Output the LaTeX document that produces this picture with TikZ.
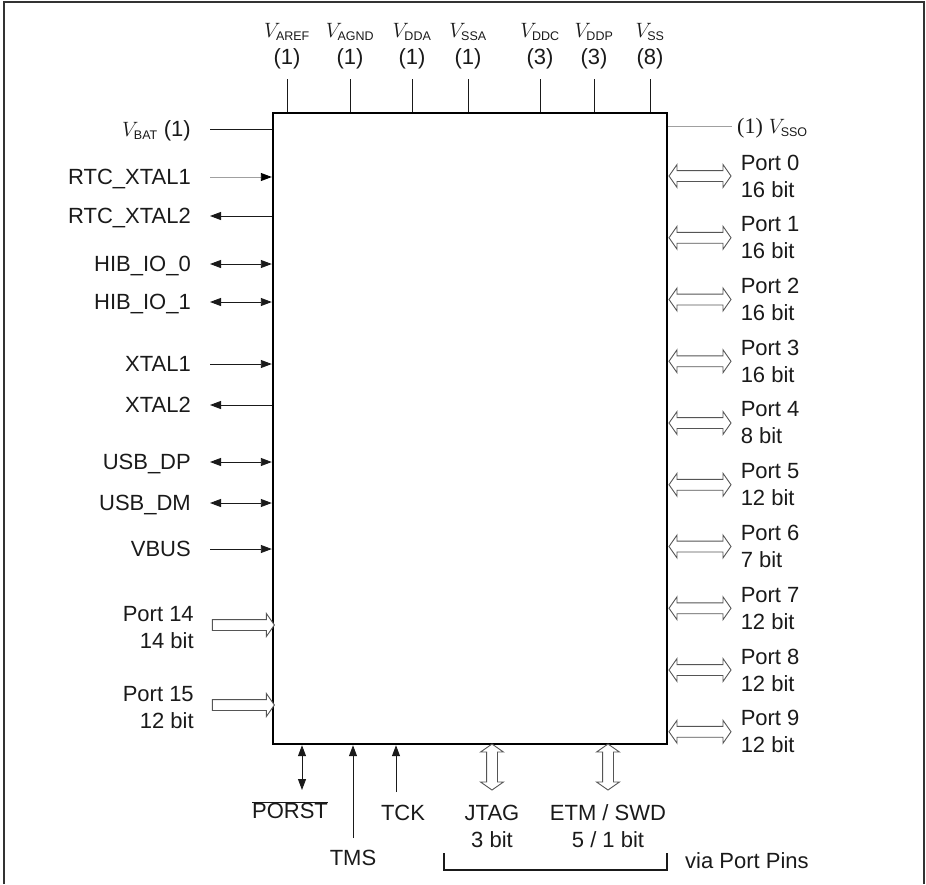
\documentclass[tikz,border=0pt]{standalone}
\usepackage{fontspec}
\setmainfont{Liberation Sans}
\newfontfamily\pinserif{Liberation Serif}
\usepackage{xcolor}
\definecolor{pinDark}{HTML}{1A1A1A}
\definecolor{pinGray}{HTML}{A0A0A0}
\definecolor{busGray}{HTML}{555555}
\definecolor{frameGray}{HTML}{333333}
\usetikzlibrary{arrows.meta,positioning,shapes.arrows,calc}
\newcommand{\vpin}[1]{$V_{\mbox{\fontsize{12.5}{12.5}\selectfont #1}}$}
\tikzset{
    chip/.style={
        draw=black,
        rectangle,
        line width=2.4pt,
        minimum width=394pt,
        minimum height=631pt,
        inner sep=0pt
    },
    frame/.style={
        draw=frameGray,
        line width=1.2pt
    },
    lbl/.style={
        font=\fontsize{22}{27}\selectfont,
        text=pinDark,
        inner sep=2pt,
        align=center
    },
    onel/.style={
        lbl,
        text height=15.7pt,
        text depth=0pt
    },
    pinwire/.style={
        line width=0.9pt,
        draw=pinDark
    },
    pinpwr/.style={pinwire},
    pinin/.style={pinwire, -{Triangle[length=11pt,width=8pt]}},
    pinout/.style={pinwire, {Triangle[length=11pt,width=8pt]}-},
    pinio/.style={pinwire, {Triangle[length=11pt,width=8pt]}-{Triangle[length=11pt,width=8pt]}},
    pinfaint/.style={pinwire, draw=pinGray, -{Triangle[length=11pt,width=8pt,color=black]}},
    busin/.style={
        single arrow,
        draw=busGray,
        fill=white,
        line width=0.9pt,
        minimum height=62pt,
        single arrow head extend=6pt,
        single arrow tip angle=110,
        inner xsep=0pt,
        inner ysep=5pt
    },
    busio/.style={
        double arrow,
        draw=busGray,
        fill=white,
        line width=0.9pt,
        minimum height=62pt,
        double arrow head extend=6pt,
        double arrow tip angle=110,
        inner xsep=0pt,
        inner ysep=5pt
    }
}

\begin{document}
\begin{tikzpicture}[x=1pt, y=-1pt]
    \useasboundingbox (0,0) rectangle (926,884);

    % Outer frame, open at the bottom
    \draw[frame] (4,884) -- (4,2) -- (924,2) -- (924,884);

    % The device
    \node[chip] (chip) at (470,428.5) {};

    % Supply pins on top
    \foreach \x/\v/\c in {287/AREF/1, 350/AGND/1, 412/DDA/1, 468/SSA/1, 540/DDC/3, 594/DDP/3, 650/SS/8} {
        \coordinate (top\v) at (\x,79);
        \draw[pinwire] (top\v) -- (top\v |- chip.north);
        \node[lbl, above=8pt of top\v] {\vpin{\v}\\(\c)};
    }

    % Single pins on the left
    \foreach \y/\kind/\txt/\nm in {
        129/pinpwr/{\vpin{BAT} (1)}/vbat,
        177/pinfaint/RTC\_XTAL1/rtcxa,
        216/pinout/RTC\_XTAL2/rtcxb,
        264/pinio/HIB\_IO\_0/hiba,
        302/pinio/HIB\_IO\_1/hibb,
        364/pinin/XTAL1/xtala,
        405/pinout/XTAL2/xtalb,
        462/pinio/USB\_DP/usbdp,
        503/pinio/USB\_DM/usbdm,
        549/pinin/VBUS/vbus} {
        \coordinate (\nm) at (210,\y);
        \node[onel, left=17pt of \nm] (\nm-lbl) {\txt};
        \draw[\kind] (\nm) -- (\nm -| chip.west);
    }

    % Input ports on the left
    \foreach \y/\p/\w in {625/14/14, 705/15/12} {
        \node[busin] (bus\p) at (241.5,\y) {};
        \node[lbl, align=right, left=16pt of bus\p, yshift=-3pt] {Port \p\\\w{} bit};
    }

    % Ports on the right
    \coordinate (vsso) at (732,126);
    \draw[pinwire, draw=pinGray] (vsso -| chip.east) -- (vsso);
    \node[onel, right=3pt of vsso] {{\pinserif (1)}\ \vpin{SSO}};
    \foreach \n/\w in {0/16, 1/16, 2/16, 3/16, 4/8, 5/12, 6/7, 7/12, 8/12, 9/12} {
        \node[busio] (bus\n) at (700,{176+61.75*\n}) {};
        \node[lbl, align=left, right=7pt of bus\n] {Port \n\\\w{} bit};
    }

    % Reset and debug pins at the bottom
    \coordinate (porst) at (302,790);
    \draw[pinio] (porst) -- (porst |- chip.south);
    \node[onel, below=11pt of porst, xshift=-12pt] {$\overline{\mbox{PORST}}$};

    \coordinate (tms) at (353,838);
    \draw[pinin] (tms) -- (tms |- chip.south);
    \node[onel, below=10pt of tms] {TMS};

    \coordinate (tck) at (396,792);
    \draw[pinin] (tck) -- (tck |- chip.south);
    \node[onel, below=11pt of tck, xshift=7pt] {TCK};

    \node[busio, rotate=90, minimum height=46pt] (jtag) at (492,767) {};
    \node[lbl, below=12pt of jtag.west] {JTAG\\3 bit};

    \node[busio, rotate=90, minimum height=46pt] (etm) at (608,767) {};
    \node[lbl, below=12pt of etm.west] {ETM / SWD\\5 / 1 bit};

    % Shared port pins
    \coordinate (brL) at (444,853);
    \coordinate (brR) at (667,853);
    \draw[pinwire, line width=1.3pt] (brL) -- ++(0,17) -| (brR);
    \node[onel, anchor=west] at ($(brR)+(16,8)$) {via Port Pins};
\end{tikzpicture}
\end{document}
